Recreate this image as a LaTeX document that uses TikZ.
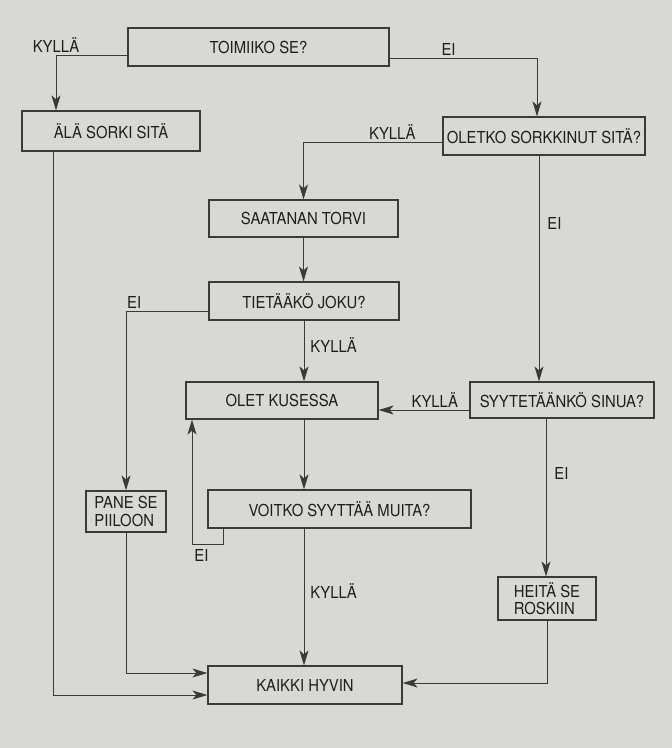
\documentclass[tikz,border=0pt]{standalone}
\usepackage{fontspec}
\setmainfont{TeX Gyre Heros}[FakeStretch=0.9]
\usetikzlibrary{arrows.meta}
\definecolor{sivu}{RGB}{216,216,213}
\definecolor{viiva}{RGB}{58,58,58}
\definecolor{teksti}{RGB}{30,30,30}

\begin{document}
\begin{tikzpicture}[x=1pt,y=-1pt,line width=0.9pt,draw=viiva,>={Stealth[length=15pt,width=9pt,inset=4pt]},
  box/.style={draw=viiva,line width=1.2pt,fill=sivu,text=teksti,inner sep=0pt,align=left,font=\fontsize{16.5}{17.5}\selectfont},
  lbl/.style={text=teksti,inner sep=2pt,font=\fontsize{16.5}{17.5}\selectfont}]
  \useasboundingbox (0,0) rectangle (672,748);
  \fill[sivu] (0,0) rectangle (672,748);
  % laatikot
  \node[box,minimum width=261,minimum height=38] (toimii) at (258.5,47) {TOIMIIKO SE?};
  \node[box,minimum width=178,minimum height=40] (ala) at (111,131) {ÄLÄ SORKI SITÄ};
  \node[box,minimum width=202,minimum height=38] (sorkk) at (544,136) {OLETKO SORKKINUT SITÄ?};
  \node[box,minimum width=189,minimum height=37] (satan) at (303.5,218.5) {SAATANAN TORVI};
  \node[box,minimum width=190,minimum height=38] (know) at (304,301) {TIETÄÄKÖ JOKU?};
  \node[box,minimum width=192,minimum height=37] (kusessa) at (282,400.5) {OLET KUSESSA};
  \node[box,minimum width=184,minimum height=36] (syyt) at (562,400) {SYYTETÄÄNKÖ SINUA?};
  \node[box,minimum width=80,minimum height=41] (pane) at (126,511.5) {PANE SE\\PIILOON};
  \node[box,minimum width=263,minimum height=38] (voitko) at (339.5,509) {VOITKO SYYTTÄÄ MUITA?};
  \node[box,minimum width=98,minimum height=43] (heita) at (547,598.5) {HEITÄ SE\\ROSKIIN};
  \node[box,minimum width=194,minimum height=38] (kaikki) at (305,685) {KAIKKI HYVIN};
  % nuolet
  \draw[->] ([yshift=-8pt]toimii.west) -| ([xshift=-55pt]ala.north) node[lbl,pos=0.5,above]{KYLLÄ};
  \draw[->] ([yshift=-11pt]toimii.east) -| ([xshift=-7pt]sorkk.north) node[lbl,pos=0.2,above]{EI};
  \draw[->] ([yshift=-6pt]sorkk.west) -| (satan.north) node[lbl,pos=0.18,above]{KYLLÄ};
  \draw[->] ([xshift=-5pt]sorkk.south) -- ([xshift=-5pt]sorkk.south |- syyt.north) node[lbl,pos=0.3,right,xshift=6pt]{EI};
  \draw[->] (satan.south) -- (satan.south |- know.north);
  \draw[->] (know.south) -- (know.south |- kusessa.north) node[lbl,pos=0.4,right,xshift=4pt]{KYLLÄ};
  \draw[->] ([yshift=-10pt]know.west) -| (pane.north) node[lbl,pos=0.45,above]{EI};
  \draw[->] ([yshift=-10pt]syyt.west) -- ([yshift=-10pt]syyt.west -| kusessa.east) node[lbl,pos=0.38,above]{KYLLÄ};
  \draw[->] ([xshift=-16pt]syyt.south) -- ([xshift=-16pt]syyt.south |- heita.north) node[lbl,pos=0.35,right,xshift=6pt]{EI};
  \draw[->] ([xshift=22pt]kusessa.south) -- ([xshift=22pt]kusessa.south |- voitko.north);
  \coordinate (silmukka) at (192,544);
  \draw[->] ([xshift=-116pt]voitko.south) |- (silmukka) node[lbl,below right,yshift=-3pt]{EI} -- (silmukka |- kusessa.south);
  \draw[->] ([xshift=-35.5pt]voitko.south) -- ([xshift=-35.5pt]voitko.south |- kaikki.north) node[lbl,pos=0.46,right,xshift=4pt]{KYLLÄ};
  \draw[->] (pane.south) |- ([yshift=12pt]kaikki.west);
  \draw[->] ([xshift=-58pt]ala.south) |- ([yshift=-10pt]kaikki.west);
  \draw[->] (heita.south) |- ([yshift=2pt]kaikki.east);
\end{tikzpicture}
\end{document}
